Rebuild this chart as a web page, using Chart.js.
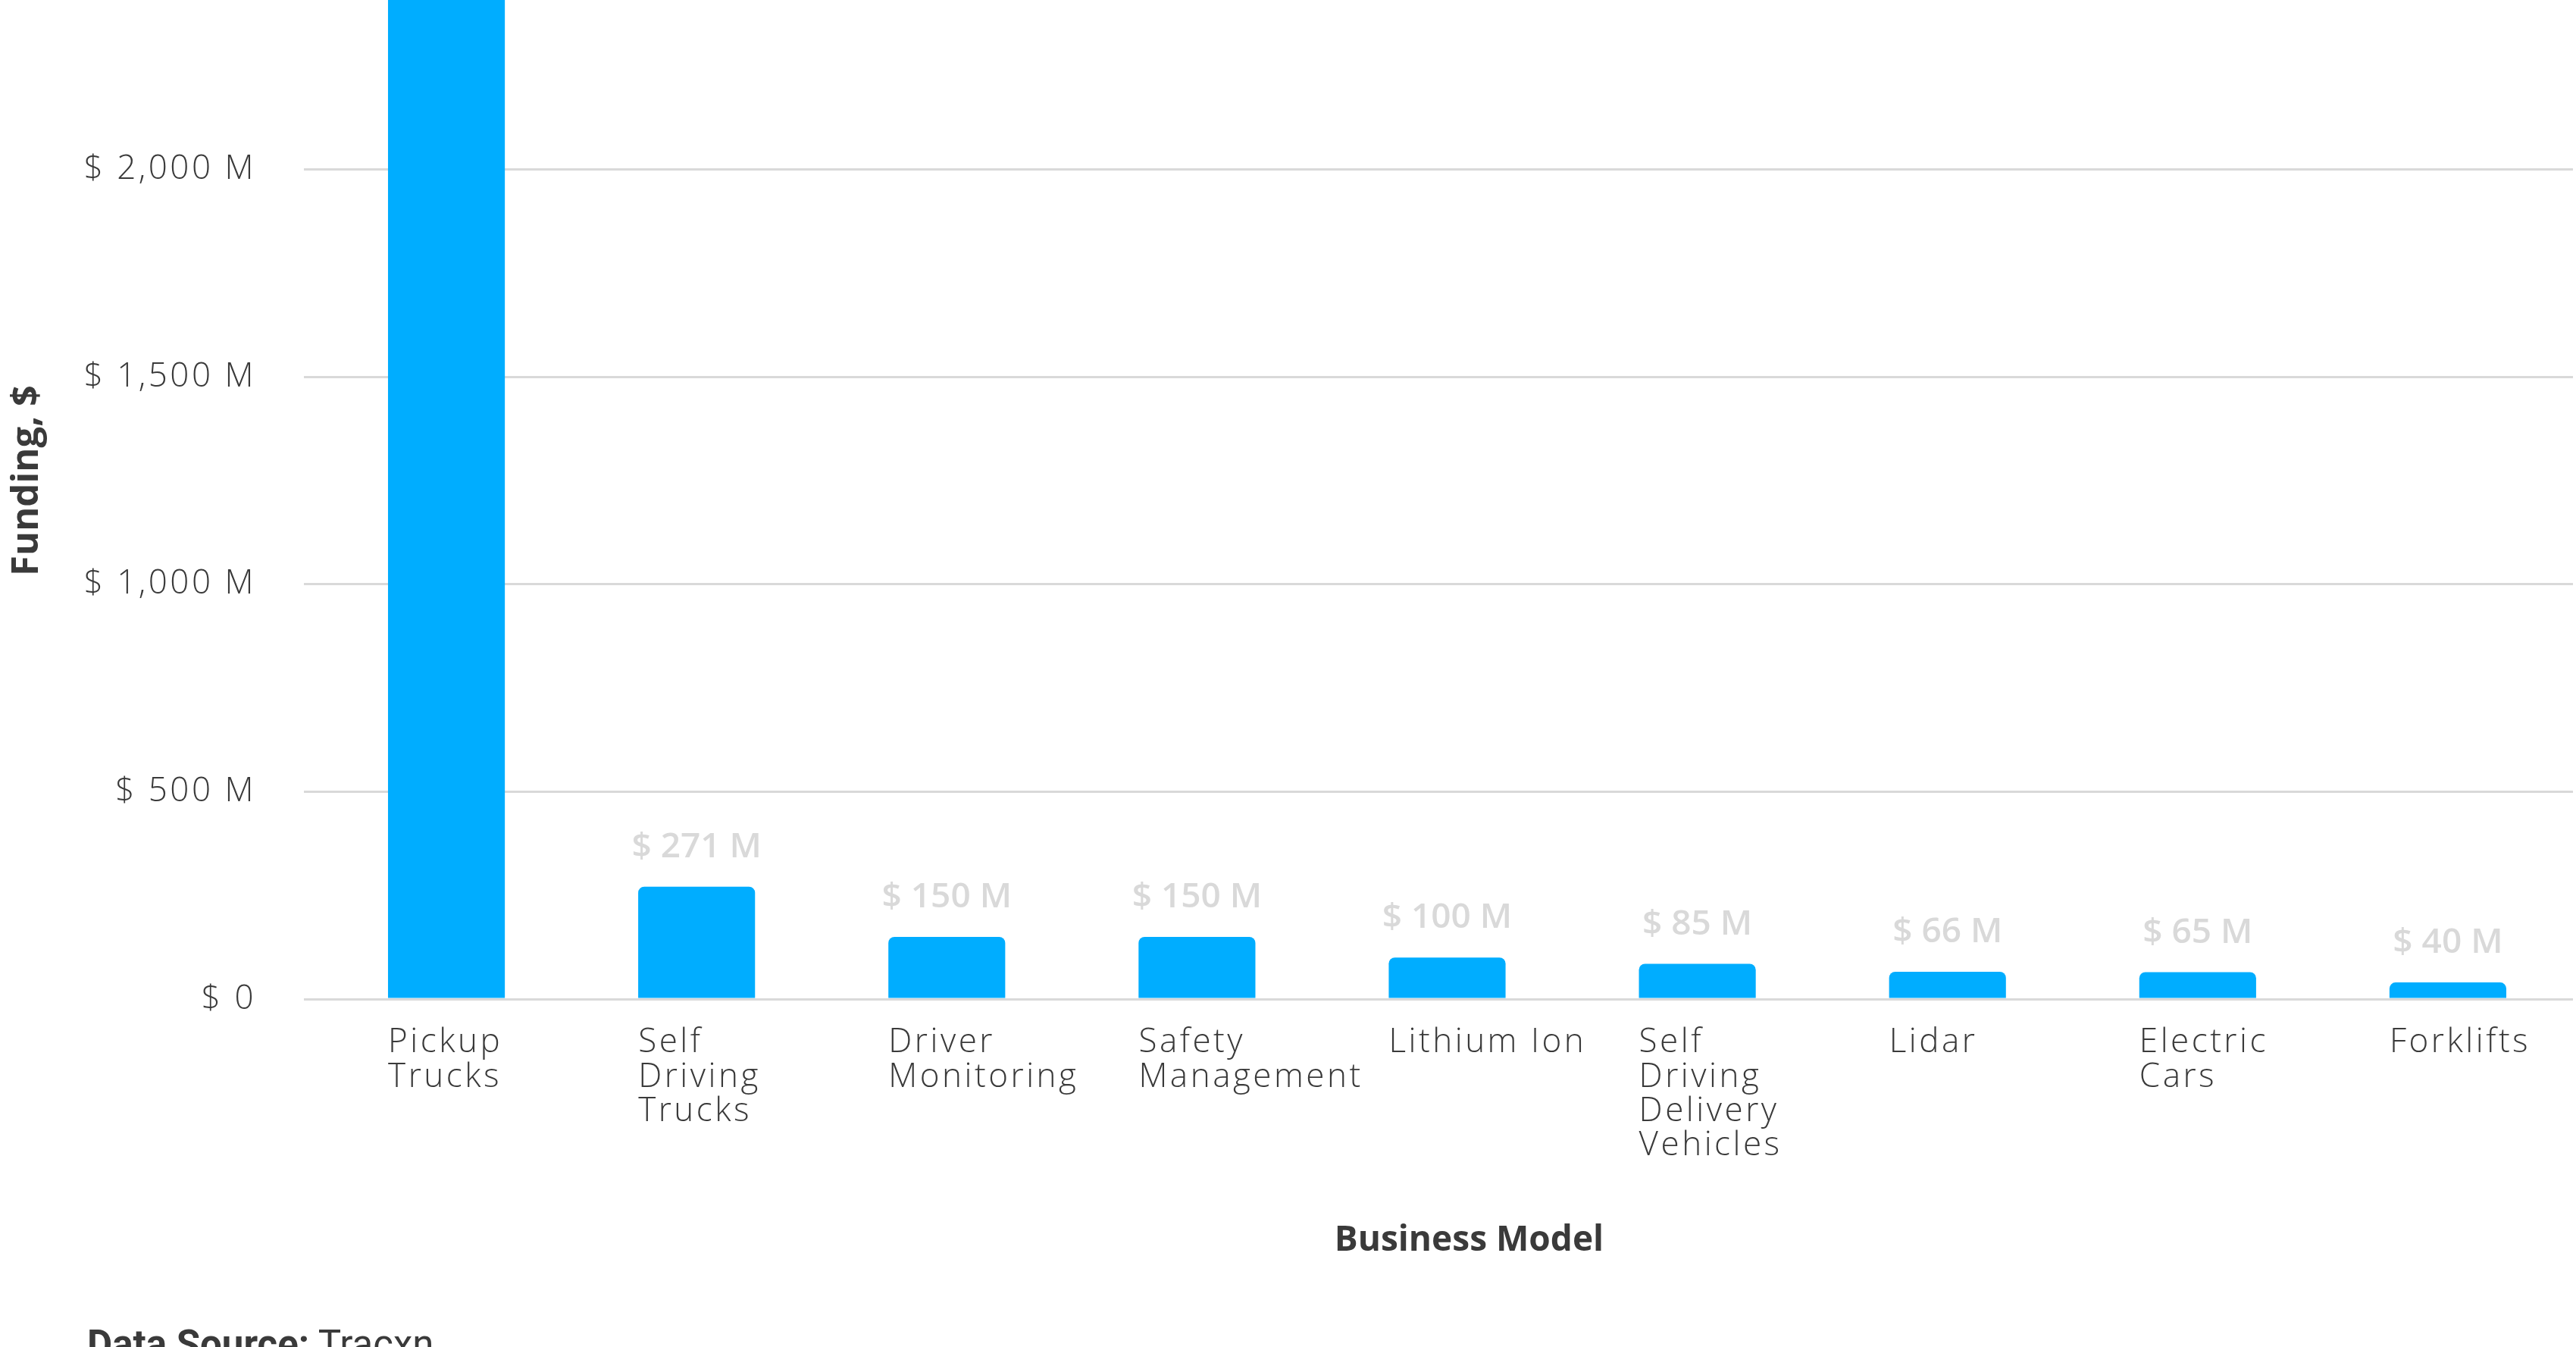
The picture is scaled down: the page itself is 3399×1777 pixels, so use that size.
<!DOCTYPE html>
<html>
<head>
<meta charset="utf-8">
<script src="https://cdn.jsdelivr.net/npm/chart.js@4"></script>
<style>
    html, body { margin: 0; padding: 0; background: #fff; overflow: hidden; }
    body { width: 3399px; height: 1777px; position: relative; }
    #wrap { position: absolute; left: 0; top: -150px; width: 3399px; height: 1927px; }
    #source {
        position: absolute; left: 115px; top: 1748px;
        font-family: Roboto, sans-serif; font-size: 51px; line-height: 1; color: #3a3a3a;
        white-space: nowrap;
    }
</style>
</head>
<body>
<div id="wrap"><canvas id="fundingChart"></canvas></div>
<div id="source"><b>Data Source:</b> Tracxn</div>
<script>
// Funding by business model (values in $ M)
const categories = [
    ['Pickup', 'Trucks'],
    ['Self', 'Driving', 'Trucks'],
    ['Driver', 'Monitoring'],
    ['Safety', 'Management'],
    'Lithium Ion',
    ['Self', 'Driving', 'Delivery', 'Vehicles'],
    'Lidar',
    ['Electric', 'Cars'],
    'Forklifts'
];
const funding = [2450, 271, 150, 150, 100, 85, 66, 65, 40];
const yTicks = [0, 500, 1000, 1500, 2000, 2500];

const textColor = '#3a3a3a';
const fontFamily = "'Open Sans', sans-serif";

function money(value) {
    return '$ ' + value.toLocaleString('en-US') + ' M';
}

// Tick labels are a bit wider in the original, add some letter spacing
function spacedLabels(scale) {
    if (scale._spaced) return;
    const draw = scale.drawLabels;
    scale.drawLabels = function(area) {
        this.ctx.save();
        this.ctx.letterSpacing = '3.5px';
        draw.call(this, area);
        this.ctx.restore();
    };
    scale._spaced = true;
}

// Draw the value above each bar
const valueLabels = {
    id: 'valueLabels',
    afterDatasetsDraw(chart) {
        const ctx = chart.ctx;
        const meta = chart.getDatasetMeta(0);
        ctx.save();
        ctx.font = '600 46px ' + fontFamily;
        ctx.fillStyle = '#d9d9d9';
        ctx.textAlign = 'center';
        ctx.textBaseline = 'middle';
        meta.data.forEach((bar, i) => {
            ctx.fillText(money(funding[i]), bar.x, bar.y - 52);
        });
        ctx.restore();
    }
};

new Chart(document.getElementById('fundingChart'), {
    type: 'bar',
    data: {
        labels: categories,
        datasets: [{
            data: funding,
            backgroundColor: '#00adff',
            borderRadius: { topLeft: 8, topRight: 8 },
            borderSkipped: 'start',
            categoryPercentage: 1,
            barPercentage: 0.467
        }]
    },
    options: {
        responsive: true,
        maintainAspectRatio: false,
        devicePixelRatio: 1,
        animation: false,
        layout: { padding: { top: 100, right: 4, bottom: 0, left: 0 } },
        plugins: {
            legend: { display: false },
            tooltip: { enabled: false }
        },
        scales: {
            x: {
                grid: { display: false, drawTicks: false },
                border: { display: false },
                ticks: {
                    color: textColor,
                    font: { family: fontFamily, size: 44, weight: '300', lineHeight: 1.03 },
                    align: 'start',
                    labelOffset: -77,
                    padding: 35,
                    maxRotation: 0,
                    autoSkip: false
                },
                title: {
                    display: true,
                    text: '\u2003 Business Model',
                    color: textColor,
                    font: { family: fontFamily, size: 46, weight: 'bold', lineHeight: 1.2 },
                    padding: { top: 0, bottom: 113 }
                },
                afterFit(scale) {
                    scale.height = 459;
                    scale.paddingLeft = 0;
                    scale.paddingRight = 0;
                    spacedLabels(scale);
                }
            },
            y: {
                min: 0,
                max: 2500,
                afterBuildTicks(scale) {
                    scale.ticks = yTicks.map(v => ({ value: v }));
                },
                grid: { color: '#d9d9d9', lineWidth: 3, tickLength: 23, drawTicks: true },
                border: { display: false },
                ticks: {
                    color: textColor,
                    font: { family: fontFamily, size: 44, weight: '300' },
                    padding: 63,
                    callback: value => value === 0 ? '$ 0' : money(value)
                },
                title: {
                    display: true,
                    text: 'Funding, $',
                    color: textColor,
                    font: { family: fontFamily, size: 49, weight: 'bold', lineHeight: 1.2 },
                    padding: { top: 7, bottom: 0 }
                },
                afterFit(scale) {
                    scale.width = 424;
                    spacedLabels(scale);
                }
            }
        }
    },
    plugins: [valueLabels]
});
</script>
</body>
</html>
